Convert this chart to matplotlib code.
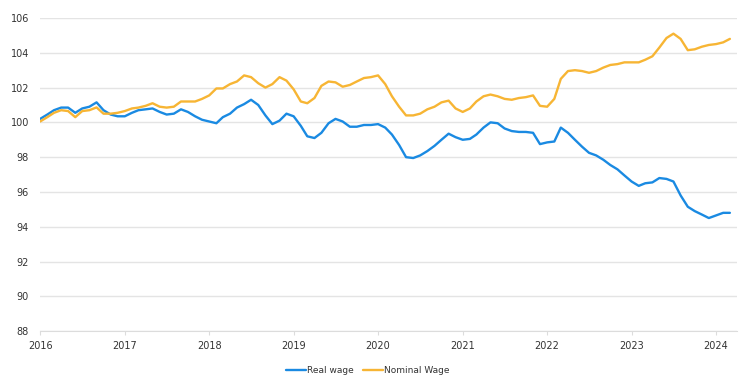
# Real vs nominal wage index (Jan 2016 = 100), monthly

import numpy as np
import pandas as pd
import matplotlib
matplotlib.use('Agg')
import matplotlib.pyplot as plt
import matplotlib.dates as mdates

real_wage = [
    100.2, 100.45, 100.7, 100.85, 100.85, 100.55, 100.8, 100.9, 101.15, 100.7, 100.45, 100.35,
    100.35, 100.55, 100.7, 100.75, 100.8, 100.6, 100.45, 100.5, 100.75, 100.6, 100.35, 100.15,
    100.05, 99.95, 100.3, 100.5, 100.85, 101.05, 101.3, 101.0, 100.4, 99.9, 100.1, 100.5,
    100.35, 99.8, 99.2, 99.1, 99.4, 99.95, 100.2, 100.05, 99.75, 99.75, 99.85, 99.85,
    99.9, 99.7, 99.3, 98.7, 98.0, 97.95, 98.1, 98.35, 98.65, 99.0, 99.35, 99.15,
    99.0, 99.05, 99.3, 99.7, 100.0, 99.95, 99.65, 99.5, 99.45, 99.45, 99.4, 98.75,
    98.85, 98.9, 99.7, 99.4, 99.0, 98.6, 98.25, 98.1, 97.85, 97.55, 97.3, 96.95,
    96.6, 96.35, 96.5, 96.55, 96.8, 96.75, 96.6, 95.8, 95.15, 94.9, 94.7, 94.5,
    94.65, 94.8, 94.8,
]

nominal_wage = [
    100.05, 100.3, 100.55, 100.7, 100.65, 100.3, 100.65, 100.7, 100.86, 100.5, 100.5, 100.55,
    100.65, 100.8, 100.85, 100.95, 101.1, 100.9, 100.85, 100.9, 101.2, 101.2, 101.2, 101.35,
    101.55, 101.95, 101.95, 102.2, 102.35, 102.7, 102.6, 102.25, 102.0, 102.2, 102.6, 102.4,
    101.9, 101.2, 101.1, 101.4, 102.1, 102.35, 102.3, 102.05, 102.15, 102.35, 102.55, 102.6,
    102.7, 102.2, 101.5, 100.9, 100.4, 100.4, 100.5, 100.75, 100.9, 101.15, 101.25, 100.8,
    100.6, 100.8, 101.2, 101.5, 101.6, 101.5, 101.35, 101.3, 101.4, 101.45, 101.55, 100.95,
    100.9, 101.35, 102.5, 102.95, 103.0, 102.95, 102.85, 102.95, 103.15, 103.3, 103.35, 103.45,
    103.45, 103.45, 103.6, 103.8, 104.3, 104.85, 105.1, 104.8, 104.15, 104.2, 104.35, 104.45,
    104.5, 104.6, 104.8,
]

dates = pd.date_range('2016-01-01', periods=len(real_wage), freq='MS')
year_ticks = pd.date_range('2016-01-01', '2024-01-01', freq='YS')
y_ticks = list(range(88, 107, 2))

label_font = ['Liberation Sans Narrow', 'DejaVu Sans']
text_col = '#333333'

fig = plt.figure(figsize=(7.43, 3.75), dpi=100)
ax = fig.add_axes([0.054, 0.117, 0.938, 0.835])

ax.plot(dates, real_wage, color='#1a8ae2', lw=1.7, label='Real wage', solid_capstyle='round')
ax.plot(dates, nominal_wage, color='#f7b534', lw=1.7, label='Nominal Wage', solid_capstyle='round')

ax.set_ylim(88, 106)
ax.set_xlim(pd.Timestamp('2016-01-01'), pd.Timestamp('2024-04-01'))
ax.set_yticks(y_ticks)
ax.set_xticks(year_ticks)
ax.xaxis.set_major_formatter(mdates.DateFormatter('%Y'))

ax.grid(axis='y', color='#e4e4e4', lw=1.0)
ax.set_axisbelow(True)
for side in ['top', 'right', 'left']:
    ax.spines[side].set_visible(False)
ax.spines['bottom'].set_color('#dcdcdc')
ax.tick_params(axis='y', length=0, pad=8)
ax.tick_params(axis='x', length=3, color='#dcdcdc', pad=4)
for lab in ax.get_xticklabels() + ax.get_yticklabels():
    lab.set_fontfamily(label_font)
    lab.set_fontsize(7)
    lab.set_color(text_col)

leg = ax.legend(loc='upper center', bbox_to_anchor=(0.47, -0.085), ncol=2, frameon=False,
                handlelength=2.2, handletextpad=0.1, columnspacing=1.0,
                prop={'family': label_font, 'size': 6.5})
for t in leg.get_texts():
    t.set_color(text_col)

fig.savefig('out.png', dpi=100, facecolor='white')
